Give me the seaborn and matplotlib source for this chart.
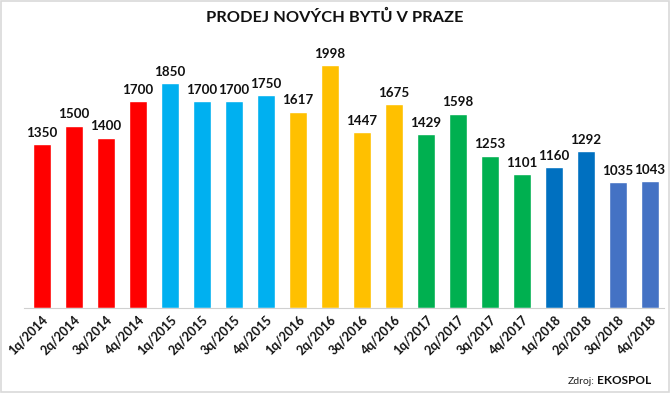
import matplotlib
matplotlib.use("Agg")
import matplotlib.pyplot as plt
import seaborn as sns
import pandas as pd
from matplotlib.patches import Rectangle

quarters = ["1q/2014", "2q/2014", "3q/2014", "4q/2014",
            "1q/2015", "2q/2015", "3q/2015", "4q/2015",
            "1q/2016", "2q/2016", "3q/2016", "4q/2016",
            "1q/2017", "2q/2017", "3q/2017", "4q/2017",
            "1q/2018", "2q/2018", "3q/2018", "4q/2018"]
sales = [1350, 1500, 1400, 1700,
         1850, 1700, 1700, 1750,
         1617, 1998, 1447, 1675,
         1429, 1598, 1253, 1101,
         1160, 1292, 1035, 1043]
bar_colors = ["#FF0000"] * 4 + ["#00B0F0"] * 4 + ["#FFC000"] * 4 + \
             ["#00B050"] * 4 + ["#0070C0"] * 2 + ["#4472C4"] * 2
title = "PRODEJ NOVÝCH BYTŮ V PRAZE"

sns.set_theme(style="white")
plt.rcParams["font.family"] = ["Lato", "DejaVu Sans"]

df = pd.DataFrame({"q": quarters, "v": sales})

fig = plt.figure(figsize=(6.7, 3.93), dpi=100)
ax = fig.add_axes([24.4 / 670, 85 / 393, 640 / 670, 267.3 / 393])
sns.barplot(data=df, x="q", y="v", hue="q", palette=bar_colors,
            legend=False, width=0.57, ax=ax, saturation=1)

ax.set_xlim(-0.55, 19.45)
ax.set_ylim(0, 2200)
for i, v in enumerate(sales):
    ax.text(i, v + 45, str(v), ha="center", va="bottom",
            fontsize=9.6, fontweight="bold", color="#111111")

ax.set_xlabel("")
ax.set_ylabel("")
ax.set_yticks([])
ax.set_xticks(range(len(quarters)))
ax.set_xticklabels(quarters, rotation=45, ha="right", rotation_mode="anchor",
                   fontsize=9, fontweight="bold", color="#111111")
ax.tick_params(axis="x", length=0, pad=4)
for s in ["top", "right", "left"]:
    ax.spines[s].set_visible(False)
ax.spines["bottom"].set_color("#d0d0d0")
ax.spines["bottom"].set_linewidth(0.8)

fig.text(0.5, 1 - 17 / 393, title, ha="center", va="center",
         fontsize=11.8, fontweight="bold", color="#111111")
fig.text(595 / 670, 1 - 381 / 393, "Zdroj:", ha="right", va="center",
         fontsize=7.5, color="#222222")
fig.text(597 / 670, 1 - 381 / 393, "EKOSPOL", ha="left", va="center",
         fontsize=8.5, fontweight="bold", color="#111111")

fig.patches.append(Rectangle((0.002, 0.003), 0.996, 0.994, transform=fig.transFigure,
                             fill=False, edgecolor="#d9d9d9", linewidth=1.2))

fig.savefig("out.png", dpi=100)
